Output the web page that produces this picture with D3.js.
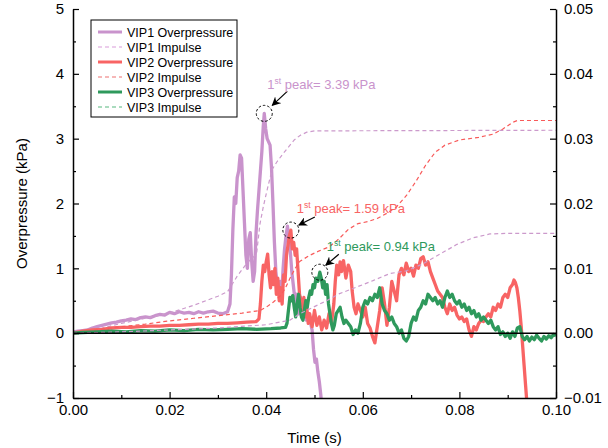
<!DOCTYPE html>
<html>
<head>
<meta charset="utf-8">
<script src="https://cdn.jsdelivr.net/npm/d3@7"></script>
<style>
  html, body { margin: 0; padding: 0; background: #fff; }
  svg { display: block; font-family: "Liberation Sans", Arial, sans-serif; }
</style>
</head>
<body>
<svg id="chart" width="608" height="448"></svg>
<script>
// ---- Data: time (s) vs overpressure (kPa) and impulse (kPa·s) ----
const vip1Overpressure = [
  [0.0000,0.02],[0.0010,0.03],[0.0020,0.04],[0.0030,0.05],[0.0040,0.08],[0.0050,0.10],
  [0.0060,0.12],[0.0070,0.14],[0.0080,0.16],[0.0090,0.17],[0.0100,0.19],[0.0110,0.20],
  [0.0120,0.22],[0.0130,0.21],[0.0140,0.24],[0.0150,0.25],[0.0160,0.24],[0.0170,0.27],
  [0.0180,0.29],[0.0190,0.28],[0.0200,0.32],[0.0210,0.30],[0.0220,0.33],[0.0230,0.31],
  [0.0240,0.32],[0.0250,0.30],[0.0260,0.33],[0.0270,0.31],[0.0280,0.33],[0.0290,0.34],
  [0.0300,0.31],[0.0310,0.30],[0.0320,0.33],[0.0325,0.45],[0.0328,0.90],[0.0331,1.60],
  [0.0334,2.10],[0.0337,2.00],[0.0340,2.40],[0.0343,2.50],[0.0346,2.75],[0.0349,2.70],
  [0.0352,2.20],[0.0355,1.70],[0.0358,1.20],[0.0361,1.00],[0.0364,1.45],[0.0367,1.55],
  [0.0370,1.10],[0.0373,0.80],[0.0376,0.95],[0.0379,1.55],[0.0382,1.90],[0.0385,2.20],
  [0.0388,2.50],[0.0391,2.80],[0.0394,3.20],[0.0396,3.39],[0.0399,3.15],[0.0402,3.00],
  [0.0405,2.95],[0.0408,2.90],[0.0411,2.55],[0.0414,2.00],[0.0417,1.40],[0.0420,0.95],
  [0.0423,0.75],[0.0426,0.65],[0.0429,0.80],[0.0432,0.60],[0.0435,1.00],[0.0438,1.30],
  [0.0441,1.50],[0.0444,1.65],[0.0447,1.45],[0.0450,1.25],[0.0453,0.95],[0.0456,0.75],
  [0.0459,0.55],[0.0462,0.60],[0.0465,0.35],[0.0468,0.30],[0.0471,0.55],[0.0474,0.50],
  [0.0477,0.25],[0.0480,0.40],[0.0483,0.20],[0.0486,0.30],[0.0489,0.25],[0.0492,0.15],
  [0.0495,0.05],[0.0498,-0.25],[0.0501,-0.45],[0.0504,-0.40],[0.0507,-0.60],[0.0510,-0.75],
  [0.0513,-0.95],[0.0516,-1.20]
];

const vip1Impulse = [
  [0.000,0.0000],[0.002,0.0001],[0.005,0.0006],[0.010,0.0015],[0.015,0.0023],[0.020,0.0031],
  [0.025,0.0043],[0.030,0.0057],[0.032,0.0064],[0.034,0.0088],[0.036,0.0108],[0.038,0.0122],
  [0.0387,0.0168],[0.0394,0.0195],[0.0401,0.0218],[0.0412,0.0252],[0.0422,0.0264],
  [0.0434,0.0276],[0.0446,0.0287],[0.0458,0.0298],[0.0470,0.0305],[0.0484,0.0310],
  [0.0500,0.0312],[0.1000,0.0313]
];

const vip2Overpressure = [
  [0.0000,0.00],[0.0020,0.03],[0.0040,0.05],[0.0060,0.06],[0.0080,0.08],[0.0100,0.09],
  [0.0120,0.09],[0.0140,0.10],[0.0160,0.11],[0.0180,0.11],[0.0200,0.12],[0.0220,0.12],
  [0.0240,0.13],[0.0260,0.14],[0.0280,0.14],[0.0300,0.15],[0.0320,0.15],[0.0340,0.16],
  [0.0360,0.17],[0.0380,0.18],[0.0385,0.22],[0.0388,0.45],[0.0391,0.80],[0.0394,1.05],
  [0.0397,0.95],[0.0400,1.10],[0.0403,1.22],[0.0406,0.90],[0.0409,0.70],[0.0412,0.95],
  [0.0415,0.75],[0.0418,1.00],[0.0421,0.60],[0.0424,0.85],[0.0427,0.50],[0.0430,0.70],
  [0.0433,0.45],[0.0436,0.90],[0.0439,0.80],[0.0442,1.20],[0.0445,1.35],[0.0448,1.50],
  [0.0451,1.59],[0.0454,1.30],[0.0457,1.40],[0.0460,1.20],[0.0463,1.30],[0.0466,0.95],
  [0.0469,0.60],[0.0472,0.50],[0.0475,0.35],[0.0478,0.55],[0.0481,0.25],[0.0484,0.40],
  [0.0487,0.15],[0.0490,0.30],[0.0495,0.10],[0.0500,0.35],[0.0505,0.12],[0.0510,0.25],
  [0.0515,0.05],[0.0520,0.20],[0.0525,0.08],[0.0530,0.30],[0.0535,0.15],[0.0540,0.45],
  [0.0543,0.80],[0.0546,1.05],[0.0550,0.90],[0.0553,1.10],[0.0556,0.95],[0.0560,1.12],
  [0.0565,0.85],[0.0570,1.05],[0.0575,0.95],[0.0578,0.65],[0.0582,0.40],[0.0586,0.30],
  [0.0590,0.45],[0.0595,0.35],[0.0600,0.25],[0.0605,0.40],[0.0610,0.15],[0.0615,0.08],
  [0.0620,-0.05],[0.0625,-0.15],[0.0630,0.10],[0.0635,0.35],[0.0640,0.70],[0.0645,0.45],
  [0.0650,0.12],[0.0655,0.40],[0.0660,0.80],[0.0665,0.65],[0.0670,0.50],[0.0675,0.90],
  [0.0680,1.00],[0.0685,0.90],[0.0690,1.08],[0.0695,0.95],[0.0700,1.00],[0.0705,0.88],
  [0.0710,1.05],[0.0715,1.00],[0.0720,1.15],[0.0725,1.18],[0.0730,1.05],[0.0735,1.10],
  [0.0740,0.95],[0.0745,0.85],[0.0750,0.75],[0.0755,0.65],[0.0760,0.60],[0.0765,0.55],
  [0.0770,0.40],[0.0775,0.30],[0.0780,0.45],[0.0785,0.35],[0.0790,0.40],[0.0795,0.28],
  [0.0800,0.22],[0.0805,0.25],[0.0810,0.18],[0.0815,0.22],[0.0820,0.05],[0.0825,-0.05],
  [0.0830,0.10],[0.0835,0.05],[0.0840,0.15],[0.0845,0.20],[0.0850,0.18],[0.0855,0.25],
  [0.0860,0.30],[0.0865,0.25],[0.0870,0.40],[0.0875,0.35],[0.0880,0.45],[0.0885,0.40],
  [0.0890,0.55],[0.0895,0.60],[0.0900,0.55],[0.0905,0.70],[0.0910,0.75],[0.0913,0.82],
  [0.0916,0.78],[0.0919,0.70],[0.0922,0.55],[0.0925,0.35],[0.0928,0.10],[0.0931,-0.20],
  [0.0934,-0.50],[0.0937,-0.80],[0.0940,-1.10],[0.0943,-1.30]
];

const vip2Impulse = [
  [0.000,0.0000],[0.005,0.0005],[0.010,0.0010],[0.015,0.0014],[0.020,0.0019],[0.025,0.0023],
  [0.030,0.0027],[0.035,0.0031],[0.0387,0.0035],[0.040,0.0040],[0.0415,0.0048],[0.043,0.0058],
  [0.044,0.0070],[0.045,0.0086],[0.046,0.0100],[0.047,0.0111],[0.049,0.0120],[0.051,0.0127],
  [0.053,0.0133],[0.055,0.0145],[0.057,0.0160],[0.059,0.0169],[0.061,0.0172],[0.063,0.0177],
  [0.065,0.0185],[0.067,0.0195],[0.069,0.0212],[0.071,0.0234],[0.073,0.0259],[0.075,0.0279],
  [0.077,0.0290],[0.080,0.0298],[0.084,0.0302],[0.087,0.0307],[0.089,0.0315],[0.091,0.0325],
  [0.092,0.0328],[0.100,0.0328]
];

const vip3Overpressure = [
  [0.0000,0.00],[0.0020,0.01],[0.0050,0.02],[0.0080,0.03],[0.0110,0.02],[0.0140,0.04],
  [0.0170,0.03],[0.0200,0.05],[0.0230,0.04],[0.0260,0.06],[0.0290,0.05],[0.0320,0.06],
  [0.0350,0.07],[0.0380,0.06],[0.0410,0.07],[0.0430,0.08],[0.0440,0.09],[0.0443,0.15],
  [0.0446,0.35],[0.0449,0.55],[0.0452,0.50],[0.0455,0.58],[0.0458,0.40],[0.0461,0.25],
  [0.0464,0.45],[0.0467,0.60],[0.0470,0.40],[0.0473,0.25],[0.0476,0.20],[0.0479,0.35],
  [0.0482,0.50],[0.0485,0.40],[0.0488,0.55],[0.0491,0.65],[0.0494,0.60],[0.0497,0.75],
  [0.0500,0.70],[0.0503,0.85],[0.0507,0.80],[0.0511,0.94],[0.0514,0.85],[0.0517,0.70],
  [0.0520,0.80],[0.0523,0.60],[0.0526,0.75],[0.0529,0.45],[0.0532,0.30],[0.0535,0.15],
  [0.0538,0.05],[0.0541,0.12],[0.0545,0.30],[0.0549,0.35],[0.0553,0.40],[0.0557,0.25],
  [0.0561,0.15],[0.0565,0.20],[0.0570,0.15],[0.0575,0.10],[0.0580,-0.02],[0.0585,0.05],
  [0.0590,0.00],[0.0595,0.15],[0.0600,0.40],[0.0605,0.50],[0.0610,0.45],[0.0615,0.55],
  [0.0620,0.50],[0.0625,0.60],[0.0630,0.55],[0.0635,0.70],[0.0640,0.45],[0.0645,0.35],
  [0.0650,0.30],[0.0655,0.20],[0.0660,0.25],[0.0665,0.15],[0.0670,0.10],[0.0675,0.00],
  [0.0680,0.05],[0.0685,-0.08],[0.0690,-0.12],[0.0695,-0.05],[0.0700,0.15],[0.0705,0.25],
  [0.0710,0.20],[0.0715,0.35],[0.0720,0.40],[0.0725,0.50],[0.0730,0.45],[0.0735,0.60],
  [0.0740,0.55],[0.0745,0.50],[0.0750,0.55],[0.0755,0.45],[0.0760,0.50],[0.0765,0.40],
  [0.0770,0.55],[0.0775,0.65],[0.0780,0.55],[0.0785,0.60],[0.0790,0.50],[0.0795,0.45],
  [0.0800,0.50],[0.0805,0.40],[0.0810,0.45],[0.0815,0.35],[0.0820,0.40],[0.0825,0.30],
  [0.0830,0.35],[0.0835,0.25],[0.0840,0.30],[0.0845,0.20],[0.0850,0.25],[0.0855,0.20],
  [0.0860,0.15],[0.0865,0.20],[0.0870,0.10],[0.0875,0.05],[0.0880,0.10],[0.0885,-0.02],
  [0.0890,0.02],[0.0895,-0.05],[0.0900,0.00],[0.0905,-0.08],[0.0910,0.02],[0.0915,-0.05],
  [0.0920,0.08],[0.0925,0.10],[0.0930,-0.05],[0.0935,-0.10],[0.0940,-0.05],[0.0945,-0.12],
  [0.0950,-0.06],[0.0955,-0.10],[0.0960,-0.03],[0.0965,-0.08],[0.0970,-0.12],[0.0975,-0.05],
  [0.0980,-0.09],[0.0985,-0.04],[0.0990,-0.07],[0.0995,-0.02],[0.1000,-0.04]
];

const vip3Impulse = [
  [0.000,0.0000],[0.010,0.0002],[0.020,0.0005],[0.030,0.0008],[0.040,0.0013],[0.0449,0.0020],
  [0.0470,0.0030],[0.0497,0.0040],[0.0525,0.0050],[0.0552,0.0061],[0.0587,0.0071],
  [0.0621,0.0081],[0.0656,0.0092],[0.0690,0.0096],[0.0725,0.0107],[0.0760,0.0122],
  [0.0795,0.0137],[0.0828,0.0147],[0.0863,0.0153],[0.0900,0.0154],[0.1000,0.0154]
];

// First-peak annotations: [series, time (s), value (kPa)]
const peakNotes = [
  ["VIP1", 0.0396, 3.39],
  ["VIP2", 0.0451, 1.59],
  ["VIP3", 0.0511, 0.94]
];

const legendLabels = ["VIP1 Overpressure","VIP1 Impulse","VIP2 Overpressure","VIP2 Impulse","VIP3 Overpressure","VIP3 Impulse"];
const leftTicks = [-1, 0, 1, 2, 3, 4, 5];
const rightTicks = [-0.01, 0, 0.01, 0.02, 0.03, 0.04, 0.05];
const timeTicks = [0, 0.02, 0.04, 0.06, 0.08, 0.10];

// ---- Layout & styling ----
const W = 608, H = 448;
const M = { left: 73, right: 52, top: 9, bottom: 50 };
const col = {
  VIP1: "#c993cc", VIP2: "#f86464", VIP3: "#2e995c",
  VIP1imp: "#cc9acc", VIP2imp: "#f85a5a", VIP3imp: "#cc9acc"
};
const legendDash = { VIP1: "#e6bde6", VIP2: "#f4a0a0", VIP3: "#8fcfa9" };

const svg = d3.select("#chart");
const x = d3.scaleLinear().domain([0, 0.1]).range([M.left, W - M.right]);
const yL = d3.scaleLinear().domain([-1, 5]).range([H - M.bottom, M.top]);
const yR = d3.scaleLinear().domain([-0.01, 0.05]).range([H - M.bottom, M.top]);

svg.append("defs").append("clipPath").attr("id", "plotClip")
  .append("rect")
  .attr("x", M.left).attr("y", M.top)
  .attr("width", W - M.left - M.right).attr("height", H - M.top - M.bottom);

const plot = svg.append("g").attr("clip-path", "url(#plotClip)");

const lineL = d3.line().x(d => x(d[0])).y(d => yL(d[1]));
const lineR = d3.line().x(d => x(d[0])).y(d => yR(d[1]));

function solid(data, c) {
  plot.append("path").datum(data).attr("d", lineL)
    .attr("fill", "none").attr("stroke", c).attr("stroke-width", 3.3)
    .attr("stroke-linejoin", "round");
}
function dashed(data, c) {
  plot.append("path").datum(data).attr("d", lineR)
    .attr("fill", "none").attr("stroke", c).attr("stroke-width", 1.2)
    .attr("stroke-dasharray", "4,3");
}

solid(vip1Overpressure, col.VIP1);
dashed(vip1Impulse, col.VIP1imp);
solid(vip2Overpressure, col.VIP2);
dashed(vip2Impulse, col.VIP2imp);
solid(vip3Overpressure, col.VIP3);
dashed(vip3Impulse, col.VIP3imp);

// zero reference line
svg.append("line")
  .attr("x1", x(0)).attr("x2", x(0.1))
  .attr("y1", yL(0)).attr("y2", yL(0))
  .attr("stroke", "#000").attr("stroke-width", 1.5);

// ---- Axes (ticks point inward) ----
const fmtL = d3.format("d");
const fmt2 = d3.format(".2f");

function styleAxis(g) {
  g.select(".domain").attr("stroke-width", 1.5);
  g.selectAll(".tick line").attr("stroke-width", 1.2);
  g.selectAll("text").attr("font-size", 15).attr("fill", "#000")
    .attr("font-family", "'Liberation Sans', Arial, sans-serif");
}

const minorLeft = d3.range(-0.5, 5, 1);
const minorRight = d3.range(-0.005, 0.05, 0.01);
const minorTime = d3.range(0.01, 0.1, 0.02);

// minor ticks
svg.append("g").attr("transform", `translate(${M.left},0)`)
  .call(d3.axisLeft(yL).tickValues(minorLeft).tickSize(-3).tickFormat(""))
  .call(g => g.select(".domain").remove()).selectAll("line").attr("stroke-width", 1.2);
svg.append("g").attr("transform", `translate(${W - M.right},0)`)
  .call(d3.axisRight(yR).tickValues(minorRight).tickSize(-3).tickFormat(""))
  .call(g => g.select(".domain").remove()).selectAll("line").attr("stroke-width", 1.2);
svg.append("g").attr("transform", `translate(0,${H - M.bottom})`)
  .call(d3.axisBottom(x).tickValues(minorTime).tickSize(-3).tickFormat(""))
  .call(g => g.select(".domain").remove()).selectAll("line").attr("stroke-width", 1.2);

svg.append("g").attr("transform", `translate(${M.left},0)`)
  .call(d3.axisLeft(yL).tickValues(leftTicks).tickSize(-6).tickSizeOuter(0).tickPadding(9).tickFormat(fmtL))
  .call(styleAxis);

svg.append("g").attr("transform", `translate(${W - M.right},0)`)
  .call(d3.axisRight(yR).tickValues(rightTicks).tickSize(-6).tickSizeOuter(0).tickPadding(8).tickFormat(fmt2))
  .call(styleAxis);

svg.append("g").attr("transform", `translate(0,${H - M.bottom})`)
  .call(d3.axisBottom(x).tickValues(timeTicks).tickSize(-6).tickSizeOuter(0).tickPadding(6).tickFormat(fmt2))
  .call(styleAxis);

// axis titles
svg.append("text")
  .attr("x", (M.left + W - M.right) / 2).attr("y", 443)
  .attr("text-anchor", "middle").attr("font-size", 15).text("Time (s)");
svg.append("text")
  .attr("transform", `translate(27,${(M.top + H - M.bottom) / 2}) rotate(-90)`)
  .attr("text-anchor", "middle").attr("font-size", 15).text("Overpressure (kPa)");

// ---- Peak annotations ----
const defs = svg.select("defs");
defs.append("marker").attr("id", "arrowHead")
  .attr("viewBox", "0 0 10 10").attr("refX", 9).attr("refY", 5)
  .attr("markerWidth", 9).attr("markerHeight", 9).attr("orient", "auto")
  .attr("markerUnits", "userSpaceOnUse")
  .append("path").attr("d", "M0,0 L10,5 L0,10 L3,5 Z").attr("fill", "#000");

// text and arrow offsets from each peak point (px)
const noteLayout = {
  VIP1: { tx: 3, ty: -24, ax1: 23, ay1: -22, ax2: 8, ay2: -8 },
  VIP2: { tx: 6, ty: -17, ax1: 24, ay1: -13, ax2: 8, ay2: -5 },
  VIP3: { tx: 7, ty: -21, ax1: 19, ay1: -18, ax2: 6, ay2: -7 }
};

peakNotes.forEach(([name, t, v]) => {
  const cx = x(t), cy = yL(v), L = noteLayout[name];
  svg.append("circle").attr("cx", cx).attr("cy", cy).attr("r", 8)
    .attr("fill", "none").attr("stroke", "#000").attr("stroke-width", 1)
    .attr("stroke-dasharray", "2.5,2");
  svg.append("line")
    .attr("x1", cx + L.ax1).attr("y1", cy + L.ay1)
    .attr("x2", cx + L.ax2).attr("y2", cy + L.ay2)
    .attr("stroke", "#000").attr("stroke-width", 1.2)
    .attr("marker-end", "url(#arrowHead)");
  const txt = svg.append("text")
    .attr("x", cx + L.tx).attr("y", cy + L.ty)
    .attr("font-size", 13).attr("fill", col[name]);
  txt.append("tspan").text("1");
  txt.append("tspan").attr("font-size", 8.5).attr("dy", -5).text("st");
  txt.append("tspan").attr("dy", 5).text(" peak= " + v.toFixed(2) + " kPa");
});

// ---- Legend ----
const lg = svg.append("g");
lg.append("rect").attr("x", 91).attr("y", 20).attr("width", 146).attr("height", 97)
  .attr("fill", "#fff").attr("stroke", "#000").attr("stroke-width", 1);
legendLabels.forEach((lab, i) => {
  const yy = 32 + i * 15;
  const key = lab.slice(0, 4);
  const isImp = lab.endsWith("Impulse");
  lg.append("line").attr("x1", 98).attr("x2", 122).attr("y1", yy).attr("y2", yy)
    .attr("stroke", isImp ? legendDash[key] : col[key])
    .attr("stroke-width", isImp ? 1.5 : 3)
    .attr("stroke-dasharray", isImp ? "4,3" : null);
  lg.append("text").attr("x", 127).attr("y", yy + 4.5)
    .attr("font-size", 12.5).attr("fill", "#000").text(lab);
});
</script>
</body>
</html>
